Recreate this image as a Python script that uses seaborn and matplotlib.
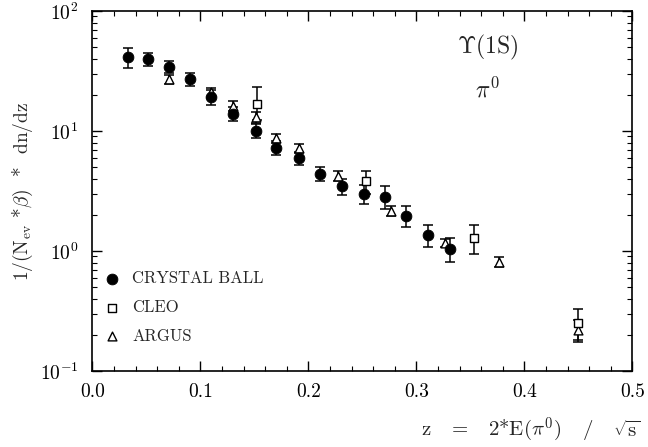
import pandas as pd
import matplotlib.pyplot as plt
import matplotlib.ticker as mticker
import seaborn as sns

# data
cb_z = [0.033, 0.051, 0.071, 0.090, 0.110, 0.130, 0.151, 0.170, 0.191, 0.211, 0.231, 0.251, 0.271, 0.290, 0.311, 0.331]
cb_y = [41.4, 39.6, 34.4, 27.0, 19.1, 13.8, 10.0, 7.2, 5.9, 4.4, 3.45, 2.97, 2.83, 1.96, 1.36, 1.04]
cb_up = [7.8, 5.3, 4.0, 3.2, 3.0, 2.0, 1.5, 1.0, 0.8, 0.6, 0.5, 0.55, 0.67, 0.4, 0.29, 0.24]
cb_lo = [7.9, 4.6, 4.0, 3.3, 2.7, 1.8, 1.2, 0.9, 0.7, 0.6, 0.5, 0.5, 0.6, 0.38, 0.27, 0.23]

cleo_z = [0.152, 0.253, 0.353, 0.450]
cleo_y = [16.8, 3.8, 1.29, 0.25]
cleo_up = [6.6, 0.87, 0.36, 0.08]
cleo_lo = [4.5, 0.8, 0.35, 0.07]

argus_z = [0.071, 0.110, 0.130, 0.151, 0.170, 0.191, 0.227, 0.276, 0.326, 0.376, 0.450]
argus_y = [27.0, 21.0, 16.3, 13.0, 8.7, 7.2, 4.25, 2.17, 1.17, 0.81, 0.22]
argus_err = [2.5, 2.0, 1.5, 1.3, 0.8, 0.6, 0.4, 0.2, 0.1, 0.08, 0.045]

x_ticks = [0.0, 0.1, 0.2, 0.3, 0.4, 0.5]

cb = pd.DataFrame({'z': cb_z, 'y': cb_y, 'up': cb_up, 'lo': cb_lo})
cleo = pd.DataFrame({'z': cleo_z, 'y': cleo_y, 'up': cleo_up, 'lo': cleo_lo})
argus = pd.DataFrame({'z': argus_z, 'y': argus_y, 'up': argus_err, 'lo': argus_err})

sns.set_theme(style="ticks")
plt.rcParams['font.family'] = ['cmr10', 'DejaVu Serif']
plt.rcParams['mathtext.fontset'] = 'cm'
plt.rcParams['axes.formatter.use_mathtext'] = True
plt.rcParams['font.size'] = 13

fig = plt.figure(figsize=(6.48, 4.47), dpi=100)
ax = fig.add_axes([0.1427, 0.170, 0.8333, 0.8054])
ax.set_yscale('log')

# error bars first, markers on top
for d in (argus, cleo, cb):
    ax.errorbar(d['z'], d['y'], yerr=[d['lo'], d['up']], fmt='none',
                ecolor='black', elinewidth=1.1, capsize=3.5, capthick=1.1, zorder=2)

sns.scatterplot(data=argus, x='z', y='y', marker='^', s=40, facecolor='white',
                edgecolor='black', linewidth=1.0, label='ARGUS', ax=ax, zorder=3)
sns.scatterplot(data=cleo, x='z', y='y', marker='s', s=28, facecolor='white',
                edgecolor='black', linewidth=1.0, label='CLEO', ax=ax, zorder=3)
sns.scatterplot(data=cb, x='z', y='y', marker='o', s=60, color='black',
                edgecolor='black', label='CRYSTAL BALL', ax=ax, zorder=4)

ax.set_xlim(0, 0.5)
ax.set_ylim(0.1, 100)
ax.set_xticks(x_ticks)
ax.xaxis.set_major_formatter(mticker.FormatStrFormatter('%.1f'))
ax.xaxis.set_minor_locator(mticker.MultipleLocator(0.02))
ax.yaxis.set_minor_locator(mticker.LogLocator(base=10, subs=range(2, 10), numticks=20))
ax.yaxis.set_minor_formatter(mticker.NullFormatter())
ax.tick_params(which='both', direction='in', top=True, right=True, colors='black', labelsize=14)
ax.tick_params(which='major', length=7, width=1.0)
ax.tick_params(which='minor', length=3.5, width=0.8)
ax.tick_params(axis='x', which='major', pad=9)
ax.tick_params(axis='y', which='major', pad=10)
for s in ax.spines.values():
    s.set_linewidth(1.2)
    s.set_color('black')

ax.set_xlabel(r'z   =   2*E($\pi^0$)   /   $\sqrt{\rm s}$', fontsize=15)
ax.xaxis.set_label_coords(1.015, -0.125)
ax.xaxis.label.set_horizontalalignment('right')
ax.set_ylabel(r'1/(N$_{\rm ev}$ *$\beta$)  *  dn/dz', fontsize=14)
ax.yaxis.set_label_coords(-0.106, 0.5)

ax.text(0.732, 0.90, r'$\Upsilon$(1S)', transform=ax.transAxes, fontsize=17, ha='center', va='center')
ax.text(0.732, 0.78, r'$\pi^0$', transform=ax.transAxes, fontsize=17, ha='center', va='center')

# legend order as in the picture
h, l = ax.get_legend_handles_labels()
order = [l.index('CRYSTAL BALL'), l.index('CLEO'), l.index('ARGUS')]
ax.legend([h[i] for i in order], [l[i] for i in order], loc='lower left',
          bbox_to_anchor=(0.0, 0.034), frameon=False, scatterpoints=1,
          handlelength=0.6, handletextpad=0.9, labelspacing=0.8, fontsize=12)

plt.savefig('out.png', dpi=100)
plt.close()
